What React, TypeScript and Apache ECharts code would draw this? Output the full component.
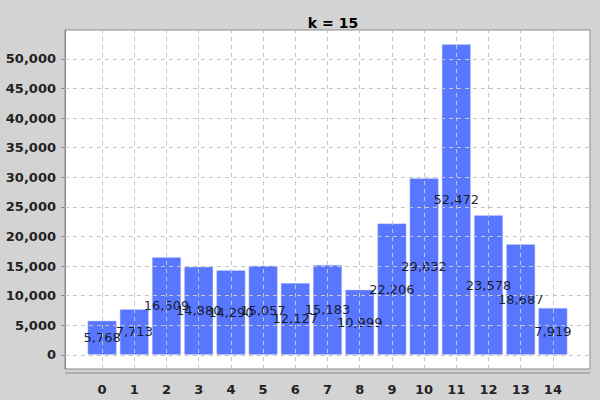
import { useEffect, useRef } from "react";
import * as echarts from "echarts";

const categories = ["0", "1", "2", "3", "4", "5", "6", "7", "8", "9", "10", "11", "12", "13", "14"];
const counts = [5768, 7713, 16509, 14880, 14290, 15057, 12127, 15183, 10999, 22206, 29832, 52472, 23578, 18687, 7919];
const yTicks = [0, 5000, 10000, 15000, 20000, 25000, 30000, 35000, 40000, 45000, 50000];

const Y_MIN = -2400;
const Y_MAX = 54900;
const fmt = (v: number) => v.toLocaleString("en-US");
const gridLine = { color: "#c4c4c4", type: [4, 4] as number[], width: 1 };

export default function App() {
  const ref = useRef<HTMLDivElement | null>(null);

  useEffect(() => {
    document.body.style.margin = "0";
    if (!ref.current) return;
    const chart = echarts.init(ref.current, null, { renderer: "svg" });
    chart.setOption({
      animation: false,
      backgroundColor: "#d3d3d3",
      textStyle: { fontFamily: "DejaVu Sans" },
      title: {
        text: "k = 15",
        left: 328,
        top: 11,
        textAlign: "center",
        textStyle: { fontSize: 14, fontWeight: "bold", color: "#000" },
      },
      grid: [
        { left: 65, right: 10, top: 30, bottom: 31, show: true, backgroundColor: "#fff", borderColor: "#8a8a8a", borderWidth: 1 },
        { left: 86, right: 31, top: 30, bottom: 31 },
      ],
      xAxis: [
        { gridIndex: 0, type: "value", min: 0, max: 1, show: false },
        {
          gridIndex: 1,
          type: "category",
          data: categories,
          offset: 4,
          axisLine: { show: false },
          axisTick: { show: false },
          splitLine: { show: false },
          axisLabel: { color: "#222", fontWeight: "bold", fontSize: 13, margin: 10 },
        },
      ],
      yAxis: [
        {
          gridIndex: 0,
          type: "value",
          min: Y_MIN,
          max: Y_MAX,
          offset: 3,
          axisLine: { show: true, lineStyle: { color: "#8a8a8a" } },
          axisTick: { show: true, customValues: yTicks, length: 4, lineStyle: { color: "#8a8a8a" } },
          splitLine: { show: false },
          axisLabel: {
            customValues: yTicks,
            formatter: (v: number) => fmt(v),
            color: "#222",
            fontWeight: "bold",
            fontSize: 13,
            margin: 6,
          },
        },
        { gridIndex: 1, type: "value", min: Y_MIN, max: Y_MAX, show: false },
      ],
      graphic: [
        { type: "line", shape: { x1: 65, y1: 373, x2: 590, y2: 373 }, style: { stroke: "#8a8a8a", lineWidth: 1 } },
      ],
      series: [
        {
          type: "line",
          xAxisIndex: 0,
          yAxisIndex: 0,
          data: [[0, Y_MIN]],
          showSymbol: false,
          symbolSize: 0,
          lineStyle: { opacity: 0 },
          z: 1,
          markLine: {
            silent: true,
            symbol: "none",
            label: { show: false },
            lineStyle: gridLine,
            data: yTicks.map((v) => ({ yAxis: v })),
          },
        },
        {
          type: "bar",
          xAxisIndex: 1,
          yAxisIndex: 1,
          data: counts,
          barCategoryGap: "10%",
          itemStyle: { color: "#4b6bfe", opacity: 0.92, borderColor: "#c8d0ff", borderWidth: 0.5 },
          label: {
            show: true,
            position: "inside",
            color: "#111",
            fontSize: 13,
            formatter: (p: { value: number }) => fmt(p.value),
          },
          markLine: {
            silent: true,
            symbol: "none",
            label: { show: false },
            lineStyle: gridLine,
            data: categories.map((c) => ({ xAxis: c })),
          },
        },
      ],
    });
    return () => chart.dispose();
  }, []);

  return <div ref={ref} style={{ width: 600, height: 400 }} />;
}
